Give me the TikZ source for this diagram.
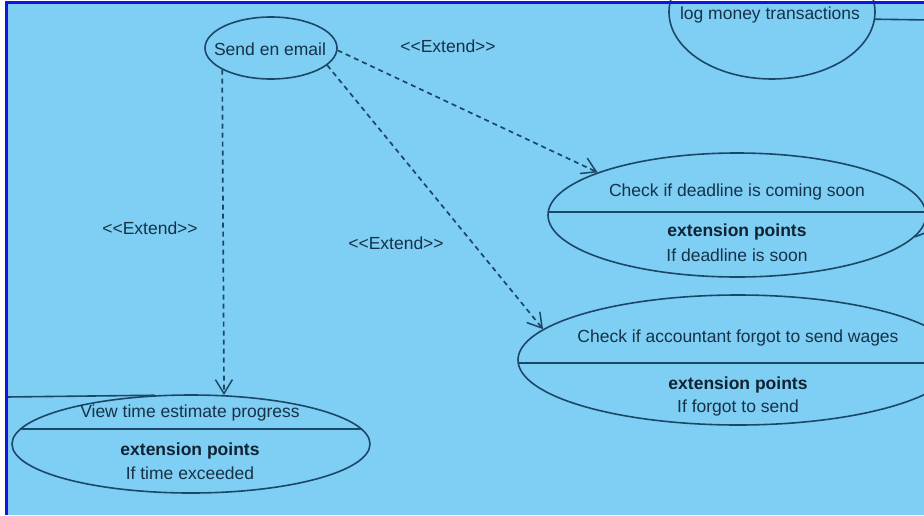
\documentclass[tikz,border=0pt]{standalone}
\usepackage{fontspec}
\setmainfont{Liberation Sans}
\usetikzlibrary{arrows.meta,shapes.geometric}
\definecolor{bg}{RGB}{127,206,243}
\definecolor{frame}{RGB}{20,20,225}
\definecolor{ln}{RGB}{28,72,104}
\definecolor{txt}{RGB}{22,50,72}
\newcommand{\extlabel}{<\kern0pt<Extend>\kern0pt>}
\tikzset{
  uc/.style={ellipse, draw=ln, line width=1.6pt, inner sep=0pt},
  lbl/.style={font=\fontsize{17.5}{21}\selectfont, text=txt, inner sep=0pt},
  blbl/.style={font=\fontsize{17.5}{21}\selectfont\bfseries, text=txt!70!black, inner sep=0pt},
  ext/.style={draw=ln, line width=1.7pt, dash pattern=on 5pt off 4pt, -{Straight Barb[length=14pt,width=17pt,line width=1.5pt]}},
  conn/.style={draw=ln, line width=1.6pt},
  divider/.style={draw=ln, line width=1.4pt}
}
\begin{document}
\begin{tikzpicture}[x=1pt,y=-1pt]
\useasboundingbox (0,0) rectangle (924,515);
\clip (0,0) rectangle (924,515);
\fill[white] (0,0) rectangle (924,515);
\fill[bg] (6.5,2.5) rectangle (924,515);

% use cases
\node[uc, minimum width=132pt, minimum height=62pt] (email) at (271,48) {};
\node[lbl] (emailt) at (270,49) {Send en email};

\node[uc, minimum width=206pt, minimum height=134pt] (log) at (772,12) {};
\node[lbl] (logt) at (770,15) {log money transactions};

\node[uc, minimum width=378pt, minimum height=124pt] (dead) at (737,215) {};
\node[lbl] (deadt) at (737,192) {Check if deadline is coming soon};
\node[blbl] (deadx) at (737,232) {extension points};
\node[lbl] (deadp) at (737,255) {If deadline is soon};

\node[uc, minimum width=440pt, minimum height=130pt] (acc) at (738,360) {};
\node[lbl] (acct) at (738,338) {Check if accountant forgot to send wages};
\node[blbl] (accx) at (738,385) {extension points};
\node[lbl] (accp) at (738,408) {If forgot to send};

\node[uc, minimum width=358pt, minimum height=98pt] (view) at (191,444) {};
\node[lbl] (viewt) at (190,413) {View time estimate progress};
\node[blbl] (viewx) at (190,451) {extension points};
\node[lbl] (viewp) at (190,473) {If time exceeded};

% dividers
\begin{scope}
\clip (737,215) ellipse [x radius=189, y radius=62];
\draw[divider] (500,212) -- (960,212);
\end{scope}
\begin{scope}
\clip (738,360) ellipse [x radius=220, y radius=65];
\draw[divider] (500,363) -- (980,363);
\end{scope}
\begin{scope}
\clip (191,444) ellipse [x radius=179, y radius=49];
\draw[divider] (0,429) -- (400,429);
\end{scope}

% extend relations
\draw[ext] (email.-2) -- (dead.163.3);
\draw[ext] (email.-17.8) -- (acc.171.1);
\draw[ext] (email.204) -- (view.56.3);

\node[lbl] (e1) at (448,46) {\extlabel};
\node[lbl] (e2) at (150,228) {\extlabel};
\node[lbl] (e3) at (396,243) {\extlabel};

% connectors leaving the view
\coordinate (logout) at (930,20);
\coordinate (deadout) at (930,231);
\coordinate (viewin) at (6,397);
\draw[conn] (log.-4.5) -- (logout);
\draw[conn] (dead.-7.8) -- (deadout);
\draw[conn] (viewin) -- (view.127.6);

\draw[frame, line width=3pt] (6.5,515) -- (6.5,2.5) -- (924,2.5);
\end{tikzpicture}
\end{document}
